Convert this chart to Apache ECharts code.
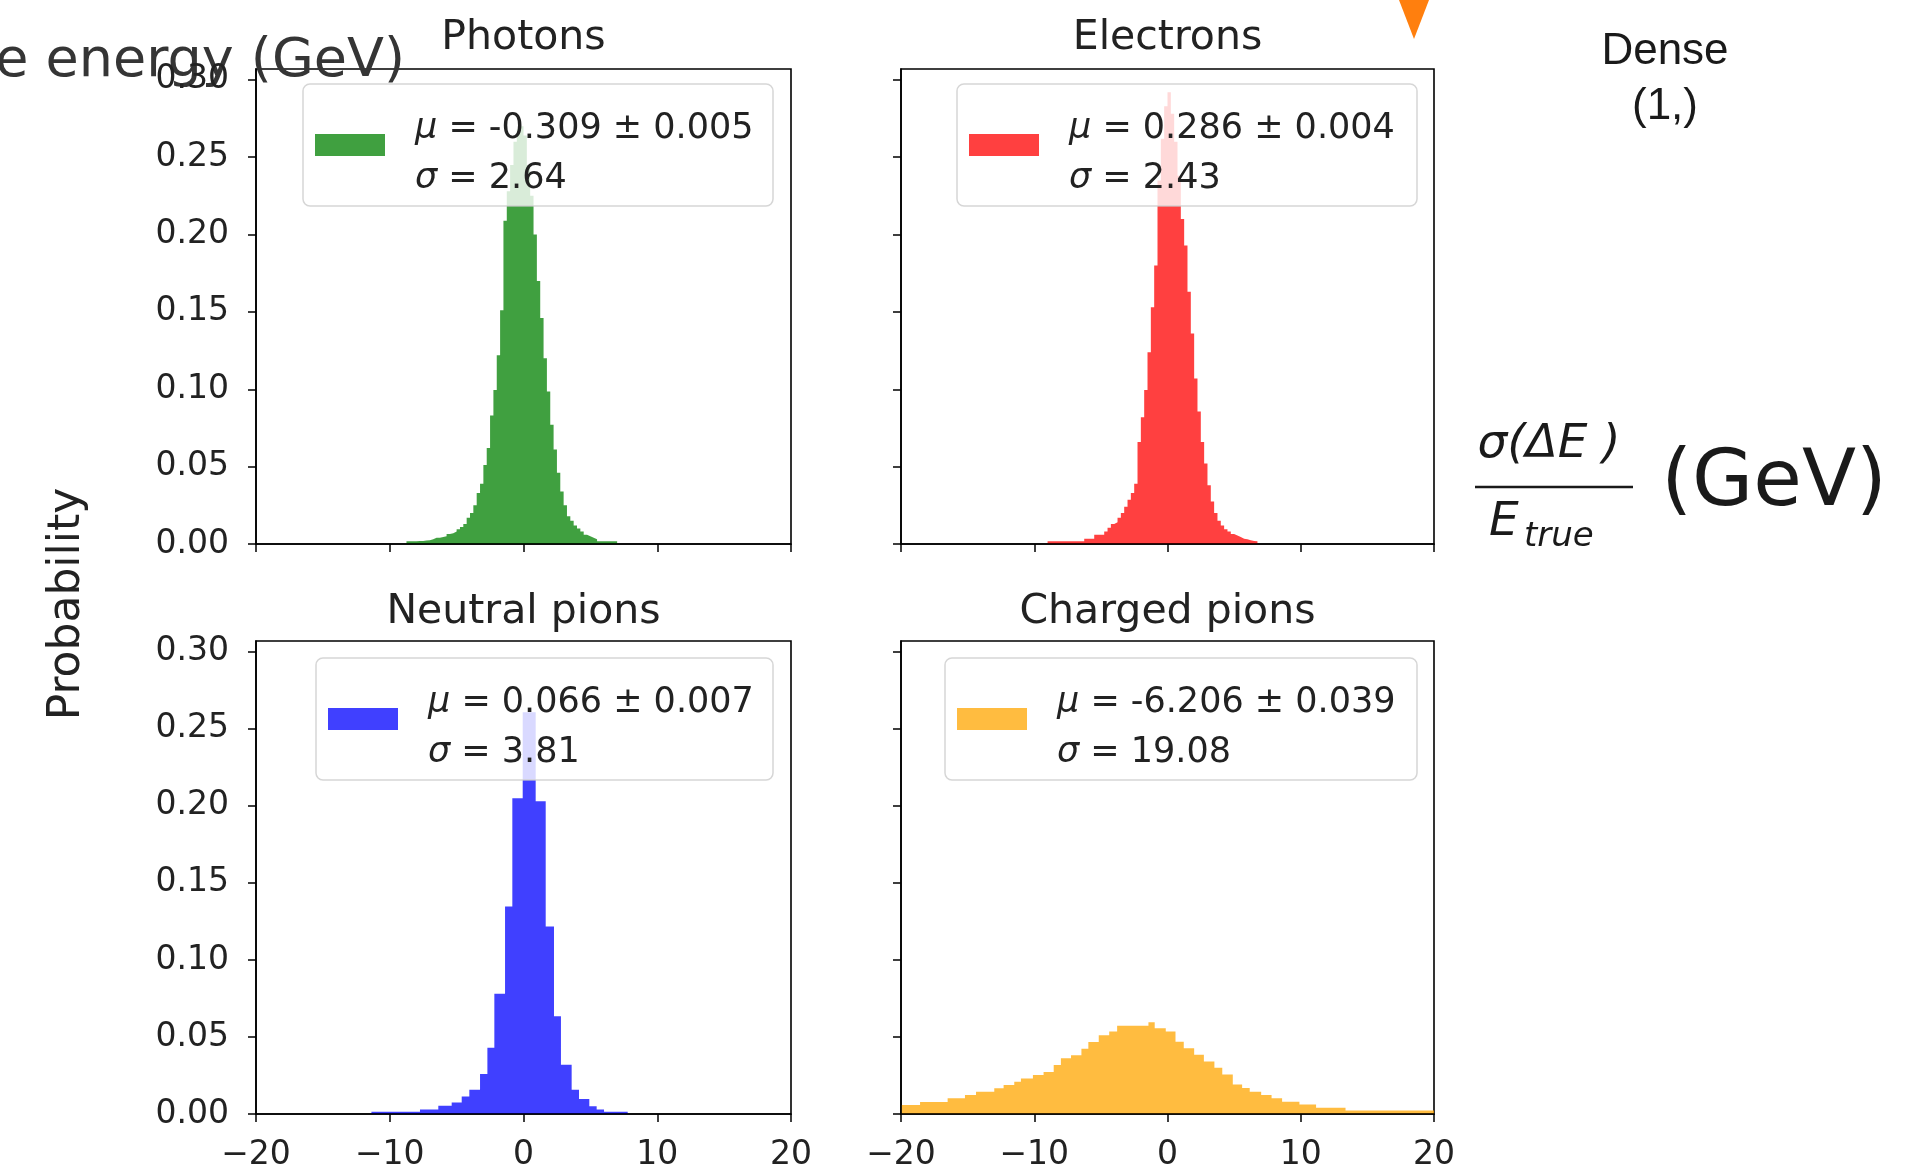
<!DOCTYPE html>
<html>
<head>
<meta charset="utf-8">
<script src="https://cdn.jsdelivr.net/npm/echarts@6/dist/echarts.min.js"></script>
<style>
html,body{margin:0;padding:0;background:#fff;}
#c{width:1922px;height:1172px;}
</style>
</head>
<body>
<div id="c"></div>
<script>
// ---------------- data ----------------
const xTickValues = [-20, -10, 0, 10, 20];
const yTickValues = [0, 0.05, 0.10, 0.15, 0.20, 0.25, 0.30];
const panelTitles = ['Photons', 'Electrons', 'Neutral pions', 'Charged pions'];
const muText = ['-0.309 ± 0.005', '0.286 ± 0.004', '0.066 ± 0.007', '-6.206 ± 0.039'];
const sigmaText = ['2.64', '2.43', '3.81', '19.08'];

const photonEdges = [-8.75,-8.5,-8.25,-8,-7.75,-7.5,-7.25,-7,-6.75,-6.5,-6.25,-6,-5.75,-5.5,-5.25,-5,
  -4.75,-4.5,-4.25,-4,-3.75,-3.5,-3.25,-3,-2.75,-2.5,-2.25,-2,-1.75,-1.5,-1.25,-1,-0.75,-0.5,-0.25,0,
  0.25,0.5,0.75,1,1.25,1.5,1.75,2,2.25,2.5,2.75,3,3.25,3.5,3.75,4,4.25,4.5,4.75,5,5.25,5.5,5.75,6,6.25,6.5,6.75,7];
const photonHeights = [0.0017,0.0017,0.0017,0.002,0.002,0.0022,0.0025,0.003,0.004,0.004,
  0.0045,0.005,0.0065,0.007,0.008,0.0095,0.011,0.013,0.017,0.020,
  0.025,0.033,0.039,0.051,0.062,0.083,0.0996,0.122,0.151,0.209,
  0.228,0.245,0.26,0.268,0.27,0.264,0.245,0.225,0.20,0.17,
  0.146,0.12,0.0985,0.077,0.061,0.046,0.034,0.025,0.018,0.015,
  0.012,0.010,0.008,0.006,0.005,0.004,0.003,0.0017,0.0017,0.0017,
  0.0017,0.0017,0.0017];

const electronEdges = [-9,-8.75,-8.5,-8.25,-8,-7.75,-7.5,-7.25,-7,-6.75,-6.5,-6.25,-6,-5.75,-5.5,-5.25,-5,
  -4.75,-4.5,-4.25,-4,-3.75,-3.5,-3.25,-3,-2.75,-2.5,-2.25,-2,-1.75,-1.5,-1.25,-1,-0.75,-0.5,-0.25,0,
  0.25,0.5,0.75,1,1.25,1.5,1.75,2,2.25,2.5,2.75,3,3.25,3.5,3.75,4,4.25,4.5,4.75,5,5.25,5.5,5.75,6,6.25,6.5,6.75];
const electronHeights = [0.0017,0.0017,0.0017,0.0017,0.0017,0.0017,0.0017,0.0017,0.0017,0.0017,
  0.0017,0.0034,0.0034,0.0034,0.006,0.006,0.006,0.008,0.0105,0.013,
  0.014,0.017,0.020,0.024,0.0286,0.033,0.039,0.066,0.082,0.0996,
  0.124,0.153,0.18,0.235,0.262,0.283,0.292,0.278,0.26,0.238,
  0.21,0.193,0.163,0.136,0.107,0.0856,0.066,0.052,0.038,0.0275,
  0.02,0.015,0.012,0.0095,0.008,0.0065,0.0055,0.0045,0.0034,0.003,
  0.0025,0.002,0.0017];

const neutralEdges = [-11.37,-7.74,-6.37,-5.37,-4.62,-4.05,-3.25,-2.70,-2.18,-1.38,-0.835,-0.06,
  0.91,1.66,2.28,2.80,3.60,4.15,4.92,5.47,6.02,7.79];
const neutralHeights = [0.0015,0.003,0.0054,0.0075,0.0114,0.0157,0.026,0.043,0.078,0.1346,0.205,
  0.2607,0.203,0.1217,0.0635,0.032,0.0157,0.0097,0.005,0.003,0.0015];

const chargedEdges = [-20,-18.57,-16.5,-15.2,-14.37,-13.0,-12.3,-11.5,-11.0,-10.1,-9.3,-8.54,-8.0,
  -7.24,-6.46,-5.94,-5.16,-4.375,-3.78,-1.43,-0.96,-0.13,0.6,1.22,2.0,2.73,3.52,4.11,4.9,5.6,6.17,
  7.03,7.81,8.6,9.9,11.15,13.36,20];
const chargedHeights = [0.0058,0.0078,0.0102,0.0124,0.0144,0.0167,0.0189,0.021,0.023,0.0253,0.0273,
  0.0318,0.0362,0.0382,0.0424,0.0467,0.0511,0.0536,0.0573,0.0596,0.0556,0.0536,0.0469,0.0427,0.0384,
  0.034,0.03,0.0256,0.0191,0.0169,0.0144,0.0124,0.0102,0.008,0.0062,0.004,0.0022];

// ---------------- layout / style ----------------
const histEdges = [photonEdges, electronEdges, neutralEdges, chargedEdges];
const histHeights = [photonHeights, electronHeights, neutralHeights, chargedHeights];
const colors = ['rgba(0,128,0,0.75)', 'rgba(255,0,0,0.75)', 'rgba(0,0,255,0.75)', 'rgba(255,165,0,0.75)'];
const grids = [
  {left: 256, top: 69, width: 535, height: 475},
  {left: 901, top: 69, width: 533, height: 475},
  {left: 256, top: 641, width: 535, height: 476},
  {left: 901, top: 641, width: 533, height: 476}
];
const legendRight = [1149, 505, 1149, 505];
const legendTop = [84, 84, 658, 658];
const legendTextW = [346, 336, 333, 348];
const titleY = [38, 38, 612, 612];
const FONT = 'DejaVu Sans';
const TXT = '#222';

function stepData(edges, heights) {
  const d = heights.map((h, k) => [edges[k], h]);
  d.push([edges[edges.length - 1], heights[heights.length - 1]]);
  return d;
}
function fmtX(v) { return v < 0 ? '\u2212' + Math.abs(v) : String(v); }

const option = {
  animation: false,
  backgroundColor: '#fff',
  grid: grids.map(g => Object.assign({show: true, borderColor: '#000', borderWidth: 1.6, backgroundColor: 'transparent'}, g)),
  title: panelTitles.map((t, i) => ({
    text: t,
    left: grids[i].left + grids[i].width / 2,
    top: titleY[i],
    textAlign: 'center',
    textVerticalAlign: 'middle',
    padding: 0,
    textStyle: {fontFamily: FONT, fontSize: 41, fontWeight: 'normal', color: TXT}
  })),
  legend: panelTitles.map((t, i) => ({
    data: [t],
    right: legendRight[i],
    top: legendTop[i],
    orient: 'vertical',
    icon: 'rect',
    itemWidth: 70,
    itemHeight: 22,
    padding: [2, 12, 2, 12],
    backgroundColor: 'rgba(255,255,255,0.8)',
    borderColor: 'rgba(204,204,204,0.8)',
    borderWidth: 1.5,
    borderRadius: 7,
    selectedMode: false,
    itemStyle: {borderWidth: 0},
    formatter: () => '{m|\u03bc} = ' + muText[i] + '\n{m|\u03c3} = ' + sigmaText[i],
    textStyle: {
      fontFamily: FONT, fontSize: 35, color: TXT, lineHeight: 50,
      padding: [18, 0, 0, 25], width: legendTextW[i],
      rich: {m: {fontFamily: FONT, fontSize: 35, fontStyle: 'italic', lineHeight: 50, color: TXT}}
    }
  })),
  xAxis: grids.map((g, i) => ({
    gridIndex: i, type: 'value', min: -20, max: 20, interval: 10, z: 5,
    axisLine: {show: true, onZero: false, lineStyle: {color: '#000', width: 1.6}},
    axisTick: {show: true, length: 8, customValues: xTickValues, lineStyle: {color: '#000', width: 1.5}},
    axisLabel: {show: i >= 2, margin: 25, customValues: xTickValues, fontFamily: FONT, fontSize: 33, color: TXT, formatter: fmtX},
    splitLine: {show: false}
  })),
  yAxis: grids.map((g, i) => ({
    gridIndex: i, type: 'value', min: 0, max: 0.307, interval: 0.05, z: 5,
    axisLine: {show: true, onZero: false, lineStyle: {color: '#000', width: 1.6}},
    axisTick: {show: true, length: 8, customValues: yTickValues, lineStyle: {color: '#000', width: 1.5}},
    axisLabel: {show: i % 2 === 0, margin: 27, customValues: yTickValues, fontFamily: FONT, fontSize: 33, color: TXT,
      formatter: v => (Math.abs(v * 20 - Math.round(v * 20)) < 1e-6 ? v.toFixed(2) : '')},
    splitLine: {show: false}
  })),
  series: panelTitles.map((t, i) => ({
    type: 'line', name: t, xAxisIndex: i, yAxisIndex: i, step: 'end',
    data: stepData(histEdges[i], histHeights[i]),
    showSymbol: false, symbol: 'none', silent: true,
    color: colors[i],
    itemStyle: {color: colors[i]},
    lineStyle: {width: 0, color: colors[i]},
    areaStyle: {color: colors[i], opacity: 1},
    emphasis: {disabled: true}
  })),
  graphic: [
    {type: 'text', x: 405, y: 62, z: 0,
      style: {text: 'e energy (GeV)', font: '54px "DejaVu Sans"', fill: '#353535', textAlign: 'right', align: 'right', textVerticalAlign: 'middle', verticalAlign: 'middle'}},
    {type: 'polygon', z: 0, shape: {points: [[1399, 0], [1429, 0], [1414, 39]]}, style: {fill: '#ff7f0e'}},
    {type: 'text', x: 1665, y: 52, style: {text: 'Dense', font: '44px "Liberation Sans"', fill: '#1a1a1a', textAlign: 'center', align: 'center', textVerticalAlign: 'middle', verticalAlign: 'middle'}},
    {type: 'text', x: 1665, y: 107, style: {text: '(1,)', font: '44px "Liberation Sans"', fill: '#1a1a1a', textAlign: 'center', align: 'center', textVerticalAlign: 'middle', verticalAlign: 'middle'}},
    {type: 'text', x: 1549, y: 445, style: {text: '\u03c3(\u0394E )', font: 'italic 47px "DejaVu Sans"', fill: '#1a1a1a', textAlign: 'center', align: 'center', textVerticalAlign: 'middle', verticalAlign: 'middle'}},
    {type: 'line', shape: {x1: 1475, y1: 487, x2: 1633, y2: 487}, style: {stroke: '#1a1a1a', lineWidth: 2.5}},
    {type: 'text', x: 1489, y: 523, style: {text: 'E', font: 'italic 47px "DejaVu Sans"', fill: '#1a1a1a', textAlign: 'left', align: 'left', textVerticalAlign: 'middle', verticalAlign: 'middle'}},
    {type: 'text', x: 1524, y: 537, style: {text: 'true', font: 'italic 34px "DejaVu Sans"', fill: '#1a1a1a', textAlign: 'left', align: 'left', textVerticalAlign: 'middle', verticalAlign: 'middle'}},
    {type: 'text', x: 1774, y: 484, style: {text: '(GeV)', font: '79px "DejaVu Sans"', fill: '#1a1a1a', textAlign: 'center', align: 'center', textVerticalAlign: 'middle', verticalAlign: 'middle'}},
    {type: 'text', x: 68, y: 604, rotation: Math.PI / 2, style: {text: 'Probability', font: '44px "DejaVu Sans"', fill: TXT, textAlign: 'center', align: 'center', textVerticalAlign: 'middle', verticalAlign: 'middle'}}
  ]
};

const chart = echarts.init(document.getElementById('c'), null, {renderer: 'canvas'});
chart.setOption(option);
</script>
</body>
</html>
